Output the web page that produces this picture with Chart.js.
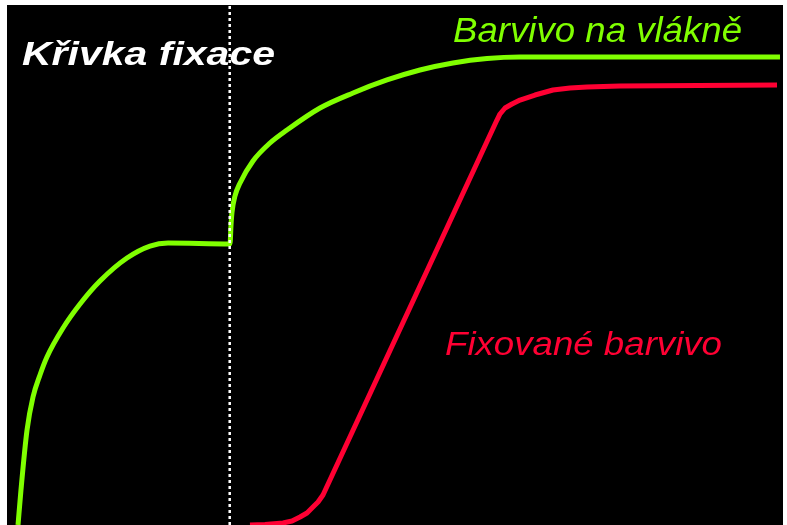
<!DOCTYPE html>
<html>
<head>
<meta charset="utf-8">
<script src="https://cdn.jsdelivr.net/npm/chart.js"></script>
<style>
  body { margin: 0; background: #fff; }
  canvas { display: block; }
</style>
</head>
<body>
<canvas id="chart" width="787" height="525"></canvas>
<script>
// barvivo na vlákně (zelená)
const greenTime = [1.42, 1.80, 2.58, 3.35, 4.25, 5.15, 7.22, 9.41, 11.98, 15.46, 18.43, 20.75,
  28.74, 28.87, 29.0, 29.38, 30.03, 31.70, 33.89, 36.08, 40.34, 44.59, 48.97, 53.22, 57.47, 61.86, 66.11, 99.61];
const greenAmount = [0, 6.73, 18.27, 24.62, 28.85, 32.31, 37.88, 42.5, 46.92, 51.35, 53.65, 54.23,
  54.04, 57.69, 60.19, 63.27, 65.77, 70.0, 73.46, 75.96, 80.19, 83.08, 85.58, 87.5, 88.85, 89.71, 90.0, 90.0];

// fixované barvivo (červená)
const redTime = [31.31, 33.25, 35.57, 36.73, 37.76, 38.66, 39.43, 40.08, 40.72, 63.14, 63.53, 64.18, 65.08, 66.11, 68.04, 70.36, 72.55, 74.74, 78.99, 99.23];
const redAmount = [0, 0.1, 0.38, 0.77, 1.54, 2.31, 3.46, 4.42, 5.77, 77.88, 79.04, 80.19, 80.96, 81.73, 82.69, 83.65, 84.04, 84.23, 84.42, 84.62];

// okamžik přidání alkálie (tečkovaná čára)
const fixStart = 28.7;

const green = "#80FF00";
const red = "#FF0033";

function points(xs, ys) {
  return xs.map((x, i) => ({ x: x, y: ys[i] }));
}

// černé pozadí plochy grafu
const blackArea = {
  id: 'blackArea',
  beforeDraw(chart) {
    const a = chart.chartArea;
    const c = chart.ctx;
    c.save();
    c.fillStyle = "#000";
    c.fillRect(a.left, a.top, a.right - a.left, a.bottom - a.top);
    c.restore();
  }
};

// text roztažený na danou šířku
function fitText(c, text, x, y, width, font, color) {
  c.save();
  c.font = font;
  c.fillStyle = color;
  const w = c.measureText(text).width;
  c.translate(x, y);
  c.scale(width / w, 1);
  c.fillText(text, 0, 0);
  c.restore();
}

const labels = {
  id: 'labels',
  afterDraw(chart) {
    const c = chart.ctx;
    c.textBaseline = 'alphabetic';
    fitText(c, "Křivka fixace", 22, 65, 253, "italic bold 34px 'Liberation Sans', Arial, sans-serif", "#fff");
    fitText(c, "Barvivo na vlákně", 453, 42, 289, "italic 35px 'Liberation Sans', Arial, sans-serif", green);
    fitText(c, "Fixované barvivo", 445, 355, 277, "italic 34px 'Liberation Sans', Arial, sans-serif", red);
  }
};

const ctx = document.getElementById('chart').getContext('2d');
new Chart(ctx, {
  type: 'line',
  data: {
    datasets: [
      {
        data: [{ x: fixStart, y: 0 }, { x: fixStart, y: 100 }],
        borderColor: "#fff",
        borderWidth: 2.5,
        borderDash: [3, 3],
        pointRadius: 0
      },
      {
        data: points(greenTime, greenAmount),
        borderColor: green,
        borderWidth: 5,
        borderJoinStyle: 'round',
        cubicInterpolationMode: 'monotone',
        pointRadius: 0
      },
      {
        data: points(redTime, redAmount),
        borderColor: red,
        borderWidth: 5,
        borderJoinStyle: 'round',
        pointRadius: 0
      }
    ]
  },
  options: {
    responsive: false,
    devicePixelRatio: 1,
    animation: false,
    layout: { padding: { left: 7, right: 4, top: 5, bottom: 0 } },
    scales: {
      x: { type: 'linear', min: 0, max: 100, display: false },
      y: { min: 0, max: 100, display: false }
    },
    plugins: {
      legend: { display: false },
      tooltip: { enabled: false }
    }
  },
  plugins: [blackArea, labels]
});
</script>
</body>
</html>
